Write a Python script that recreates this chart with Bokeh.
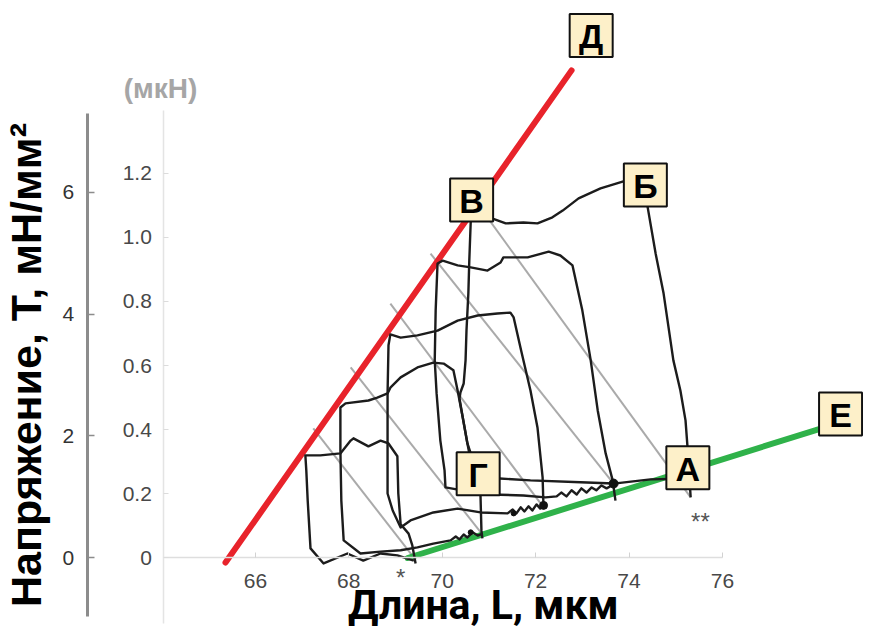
from bokeh.plotting import figure
from bokeh.models import Range1d, LinearAxis, FixedTicker, Label
from bokeh.core.properties import value
from bokeh.embed import file_html
from bokeh.resources import INLINE

# ---- axes / ticks ----
x_ticks = [66, 68, 70, 72, 74, 76]
force_ticks = [0, 0.2, 0.4, 0.6, 0.8, 1.0, 1.2]
force_labels = ["0", "0.2", "0.4", "0.6", "0.8", "1.0", "1.2"]
stress_ticks = [0, 2, 4, 6]
force_per_stress = 0.19015   # мкН per мН/мм²

# ---- envelope lines ----
red_x = [65.36, 72.77]
red_y = [-0.014, 1.520]
green_x = [69.26, 78.38]
green_y = [0.000, 0.416]

# ---- grey diagonal lines ----
grey_x0 = [70.78, 69.75, 68.89, 68.04, 67.24]
grey_y0 = [1.099, 0.949, 0.793, 0.594, 0.404]
grey_x1 = [75.32, 73.67, 72.17, 70.88, 69.39]
grey_y1 = [0.189, 0.232, 0.158, 0.070, 0.002]

# ---- loops (length мкм, force мкН) ----
L1_x = [75.32, 75.25, 75.21, 75.10, 74.95, 74.74, 74.57, 74.40, 74.35, 74.14,
        73.88, 73.39, 72.92, 72.58, 72.36, 72.04, 71.74, 71.36, 71.08, 70.65,
        70.61, 70.58, 70.56, 70.52, 70.50, 70.46, 70.39, 70.37, 70.44, 70.54,
        70.63, 70.69, 71.23, 71.89, 72.96, 73.67, 74.46, 75.32]
L1_y = [0.189, 0.351, 0.429, 0.522, 0.616, 0.825, 0.949, 1.093, 1.161, 1.183,
        1.174, 1.152, 1.121, 1.083, 1.062, 1.043, 1.046, 1.043, 1.058, 1.071,
        1.046, 0.927, 0.825, 0.709, 0.616, 0.544, 0.516, 0.497, 0.438, 0.357,
        0.289, 0.248, 0.248, 0.242, 0.236, 0.232, 0.245, 0.248]

L2_x = [73.71, 73.65, 73.50, 73.33, 73.18, 73.00, 72.79, 72.53, 72.28, 71.83,
        71.31, 71.25, 70.97, 70.61, 70.33, 70.01, 69.90, 69.86, 69.84, 69.88,
        69.96, 70.05, 70.07, 70.31, 71.03, 71.74, 72.21, 72.45, 72.55, 72.66,
        72.77, 72.88, 72.98, 73.09, 73.20, 73.30, 73.41, 73.52, 73.67]
L2_y = [0.179, 0.242, 0.326, 0.460, 0.616, 0.772, 0.912, 0.943, 0.955, 0.937,
        0.937, 0.921, 0.896, 0.906, 0.912, 0.927, 0.918, 0.772, 0.616, 0.513,
        0.366, 0.273, 0.220, 0.214, 0.198, 0.195, 0.189, 0.192, 0.204, 0.192,
        0.211, 0.198, 0.217, 0.204, 0.220, 0.211, 0.226, 0.217, 0.229]

L3_x = [72.17, 72.15, 72.04, 71.89, 71.69, 71.53, 71.46, 71.18, 70.76, 70.33,
        69.90, 69.47, 69.11, 68.89, 68.85, 68.83, 68.83, 68.83, 68.94, 69.11,
        69.32, 69.81, 70.33, 70.82, 71.40, 71.51, 71.59, 71.68, 71.76, 71.85,
        71.93, 72.02, 72.10, 72.17]
L3_y = [0.154, 0.251, 0.407, 0.522, 0.647, 0.750, 0.765, 0.762, 0.756, 0.740,
        0.709, 0.694, 0.687, 0.697, 0.663, 0.513, 0.357, 0.201, 0.148, 0.095,
        0.117, 0.142, 0.154, 0.142, 0.139, 0.151, 0.139, 0.158, 0.145, 0.161,
        0.148, 0.167, 0.154, 0.164]

L4_x = [70.86, 70.84, 70.82, 70.73, 70.54, 70.44, 70.33, 70.24, 70.03, 69.81,
        69.47, 69.11, 68.89, 68.83, 68.61, 68.42, 67.93, 67.82, 67.82, 67.84,
        67.89, 68.25, 68.68, 69.11, 69.47, 69.81, 70.18, 70.29, 70.37, 70.46,
        70.54, 70.65, 70.76, 70.86]
L4_y = [0.061, 0.086, 0.195, 0.273, 0.357, 0.438, 0.522, 0.585, 0.606, 0.609,
        0.594, 0.563, 0.531, 0.513, 0.500, 0.491, 0.482, 0.469, 0.335, 0.179,
        0.055, 0.014, 0.020, 0.024, 0.033, 0.045, 0.055, 0.067, 0.058, 0.073,
        0.064, 0.080, 0.070, 0.076]

L5_x = [69.43, 69.36, 69.28, 69.11, 69.06, 69.04, 68.85, 68.68, 68.42, 68.10,
        68.04, 67.82, 67.39, 67.07, 67.09, 67.12, 67.18, 67.46, 67.97, 68.31,
        68.68, 69.04, 69.39]
L5_y = [-0.017, 0.039, 0.076, 0.105, 0.201, 0.317, 0.357, 0.366, 0.348, 0.373,
        0.366, 0.326, 0.320, 0.320, 0.273, 0.179, 0.030, -0.017, 0.014, -0.008,
        0.014, 0.008, -0.008]

blob_x = [73.67, 72.17, 71.53, 70.61]
blob_y = [0.232, 0.164, 0.139, 0.080]
blob_size = [9, 8, 5, 5]

# ---- letter boxes ----
box_letters = ["Д", "В", "Б", "А", "Г", "Е"]
box_x = [73.19, 70.63, 74.35, 75.26, 70.77, 78.53]
box_y = [1.629, 1.116, 1.163, 0.281, 0.263, 0.449]

x_start, x_end = 60.542, 79.021
y_start, y_end = -0.2198, 1.7379

p = figure(width=863, height=628, x_range=Range1d(x_start, x_end),
           y_range=Range1d(y_start, y_end), output_backend="svg",
           toolbar_location=None, x_axis_location=None, y_axis_location=None,
           min_border=0, outline_line_color=None, background_fill_color="white")
p.grid.visible = False
p.extra_y_ranges = {"stress": Range1d(y_start / force_per_stress, y_end / force_per_stress)}

FONT = "Liberation Sans"

xax = LinearAxis(fixed_location=0, ticker=FixedTicker(ticks=x_ticks), bounds=(64.04, 76.0),
                 axis_line_color="#dedede", axis_line_width=1.5,
                 major_tick_in=5, major_tick_out=0, major_tick_line_color="#d2d2d2",
                 minor_tick_line_color=None,
                 major_label_text_font=FONT, major_label_text_font_size="21px",
                 major_label_text_color="#484848", major_label_standoff=16)
p.add_layout(xax, "below")

yax = LinearAxis(fixed_location=64.04, ticker=FixedTicker(ticks=force_ticks),
                 major_label_overrides=dict(zip(force_ticks, force_labels)),
                 bounds=(-0.204, 1.395),
                 axis_line_color="#e4e4e4", axis_line_width=1.5,
                 major_tick_in=5, major_tick_out=0, major_tick_line_color="#dcdcdc",
                 minor_tick_line_color=None,
                 major_label_text_font=FONT, major_label_text_font_size="21px",
                 major_label_text_color="#484848", major_label_standoff=12)
p.add_layout(yax, "left")

sax = LinearAxis(y_range_name="stress", fixed_location=62.40,
                 ticker=FixedTicker(ticks=stress_ticks), bounds=(-0.958, 7.29),
                 axis_line_color="#8c8c8c", axis_line_width=3,
                 major_tick_in=7, major_tick_out=0, major_tick_line_color="#8c8c8c",
                 major_tick_line_width=1.5, minor_tick_line_color=None,
                 major_label_text_font=FONT, major_label_text_font_size="21px",
                 major_label_text_color="#333333", major_label_standoff=13,
                 axis_label="Напряжение, T, мН/мм²", axis_label_text_font=FONT,
                 axis_label_text_font_style="bold", axis_label_text_font_size="43px",
                 axis_label_text_color="black", axis_label_standoff=10)
p.add_layout(sax, "left")

# grey lines
p.segment(x0=grey_x0, y0=grey_y0, x1=grey_x1, y1=grey_y1, line_color="#aaaaaa", line_width=2)

# envelopes
p.line(red_x, red_y, line_color="#e8232b", line_width=6, line_cap="round")
p.line(green_x, green_y, line_color="#2fb24a", line_width=6, line_cap="round")

# loops
p.multi_line(xs=[L1_x, L2_x, L3_x, L4_x, L5_x], ys=[L1_y, L2_y, L3_y, L4_y, L5_y],
             line_color="#1c1c1c", line_width=2.4, line_join="round")
p.scatter(blob_x, blob_y, size=blob_size, color="#111111")

# letter boxes
p.rect(box_x, box_y, width=43, height=43, width_units="screen", height_units="screen",
       fill_color="#FDF0C9", line_color="#111111", line_width=2)
p.text(box_x, box_y, text=box_letters, text_align="center", text_baseline="middle",
       text_font=value(FONT), text_font_style="bold", text_font_size="34px",
       text_color="black", y_offset=1)

# other texts
p.add_layout(Label(x=63.97, y=1.4636, text="(мкН)", text_align="center",
                   text_baseline="middle", text_font=FONT, text_font_style="bold",
                   text_font_size="28px", text_color="#a6a6a6"))
p.add_layout(Label(x=69.11, y=-0.061, text="*", text_align="center",
                   text_baseline="middle", text_font=FONT, text_font_size="24px",
                   text_color="#555555"))
p.add_layout(Label(x=75.53, y=0.114, text="**", text_align="center",
                   text_baseline="middle", text_font=FONT, text_font_size="24px",
                   text_color="#555555"))
p.add_layout(Label(x=70.88, y=-0.147, text="Длина, L, мкм", text_align="center",
                   text_baseline="middle", text_font="Roboto", text_font_style="bold",
                   text_font_size="41px", text_color="black"))

open("out.html", "w").write(file_html(p, INLINE))
